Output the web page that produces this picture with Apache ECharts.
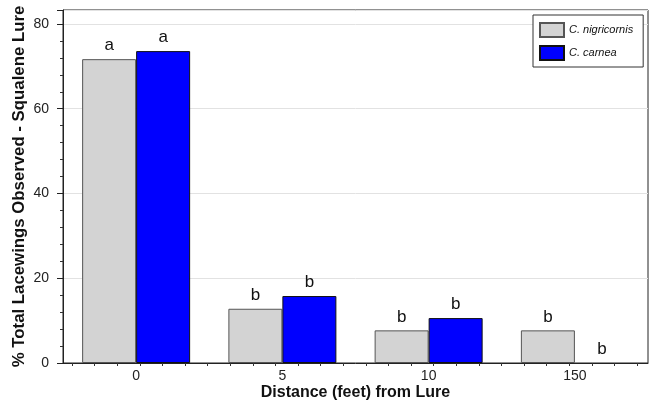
<!DOCTYPE html>
<html>
<head>
<meta charset="utf-8">
<script src="https://cdn.jsdelivr.net/npm/echarts@6/dist/echarts.min.js"></script>
<style>html,body{margin:0;padding:0;background:#fff}#c{width:655px;height:402px}</style>
</head>
<body>
<div id="c"></div>
<script>
const categories = ['0', '5', '10', '150'];
const nigricornis = [71.7, 12.8, 7.7, 7.7];
const carnea = [73.6, 15.8, 10.6, 0];
const nigLetters = ['a', 'b', 'b', 'b'];
const carLetters = ['a', 'b', 'b', 'b'];
const yTicks = [0, 20, 40, 60, 80];

const FONT = 'Liberation Sans, Arial, Helvetica, sans-serif';
const chart = echarts.init(document.getElementById('c'), null, {renderer: 'canvas'});
chart.setOption({
  animation: false,
  textStyle: {fontFamily: FONT},
  grid: [
    {left: 63, right: 7, top: 10, bottom: 39, show: true, borderColor: '#222', borderWidth: 1,
     backgroundColor: 'transparent', containLabel: false, outerBoundsMode: 'none'},
    {left: 72, right: 18, top: 10, bottom: 39, show: false, containLabel: false, outerBoundsMode: 'none'}
  ],
  legend: {
    orient: 'vertical', left: 533, top: 15,
    padding: [7, 10, 6, 6], itemGap: 7, itemWidth: 24, itemHeight: 14,
    borderColor: '#333', borderWidth: 1, backgroundColor: '#fff',
    textStyle: {fontFamily: FONT, fontSize: 11, fontStyle: 'italic', color: '#111'},
    data: [{name: 'C. nigricornis', icon: 'rect'}, {name: 'C. carnea', icon: 'rect'}]
  },
  xAxis: [
    {
      type: 'category', data: categories, gridIndex: 0,
      axisLine: {lineStyle: {color: '#222', width: 1}},
      axisTick: {show: false},
      axisLabel: {fontSize: 14, color: '#222', margin: 6, fontFamily: FONT},
      name: 'Distance (feet) from Lure', nameLocation: 'middle', nameGap: 22, nameMoveOverlap: false,
      nameTextStyle: {fontSize: 16, fontWeight: 'bold', color: '#111', fontFamily: FONT}
    },
    {
      type: 'value', gridIndex: 1, min: 0, max: 25, interval: 1,
      axisLine: {show: false},
      axisTick: {show: true, length: 3, lineStyle: {color: '#333'}},
      axisLabel: {show: false}, splitLine: {show: false}
    }
  ],
  yAxis: [
    {
      type: 'value', gridIndex: 0, min: 0, max: 83.3, interval: 20,
      axisLine: {show: true, lineStyle: {color: '#222'}},
      axisTick: {show: true, length: 6, lineStyle: {color: '#222'}},
      minorTick: {show: true, splitNumber: 5, length: 3, lineStyle: {color: '#333'}},
      axisLabel: {fontSize: 14, color: '#222', margin: 14, showMaxLabel: false, fontFamily: FONT,
        formatter: v => yTicks.indexOf(v) >= 0 ? String(v) : ''},
      splitLine: {show: true, lineStyle: {color: '#e2e2e2', width: 1}},
      name: '% Total Lacewings Observed - Squalene Lure', nameLocation: 'middle', nameGap: 35, nameMoveOverlap: false,
      nameTextStyle: {fontSize: 16.8, fontWeight: 'bold', color: '#111', fontFamily: FONT}
    },
    {type: 'value', gridIndex: 1, min: 0, max: 1, show: false}
  ],
  series: [
    {
      name: 'C. nigricornis', type: 'bar', xAxisIndex: 0, yAxisIndex: 0,
      barWidth: 54, barGap: '0%',
      itemStyle: {color: '#d3d3d3', borderColor: '#555', borderWidth: 1},
      label: {show: true, position: 'top', distance: 5, fontSize: 17, color: '#111', fontFamily: FONT,
        formatter: p => nigLetters[p.dataIndex]},
      data: nigricornis
    },
    {
      name: 'C. carnea', type: 'bar', xAxisIndex: 0, yAxisIndex: 0,
      barWidth: 54, barGap: '0%',
      itemStyle: {color: '#0000ff', borderColor: '#111', borderWidth: 1},
      label: {show: true, position: 'top', distance: 5, fontSize: 17, color: '#111', fontFamily: FONT,
        formatter: p => carLetters[p.dataIndex]},
      data: carnea.map(v => v === 0 ? {value: v, itemStyle: {borderWidth: 0}} : v)
    },
    {type: 'scatter', xAxisIndex: 1, yAxisIndex: 1, data: [], silent: true}
  ]
});
</script>
</body>
</html>
